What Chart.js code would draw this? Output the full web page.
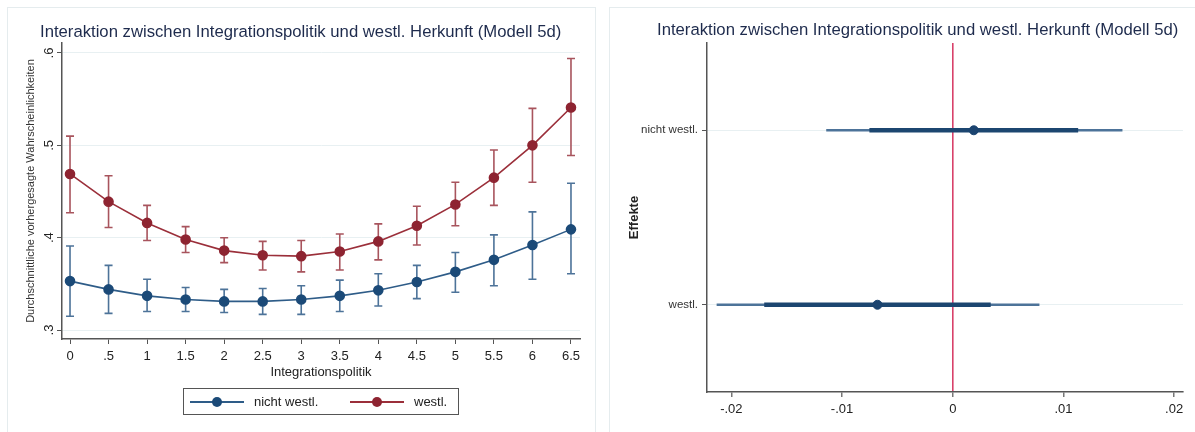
<!DOCTYPE html>
<html>
<head>
<meta charset="utf-8">
<script src="https://cdn.jsdelivr.net/npm/chart.js@4"></script>
<style>
  body { margin: 0; background: #fff; font-family: "Liberation Sans", Arial, sans-serif; }
  #wrap { position: relative; width: 1195px; height: 432px; overflow: hidden; }
  .panel { position: absolute; top: 7px; height: 440px; border: 1px solid #e5ecee; box-sizing: border-box; }
  .title { position: absolute; font-size: 16.7px; color: #1e2b4d; white-space: nowrap; }
  canvas { position: absolute; top: 0; }
  #legend { position: absolute; left: 183px; top: 388px; width: 276px; height: 27px; border: 1px solid #555; box-sizing: border-box; font-size: 13px; color: #222; }
  .key { position: absolute; top: 12px; height: 2px; width: 54px; }
  .key i { position: absolute; left: 22px; top: -4px; width: 10px; height: 10px; border-radius: 50%; }
  .lbl { position: absolute; top: 5px; }
</style>
</head>
<body>
<div id="wrap">
  <div class="panel" style="left:7px; width:589px;"></div>
  <div class="panel" style="left:609px; width:600px;"></div>
  <canvas id="left" width="600" height="432" style="left:0"></canvas>
  <canvas id="right" width="595" height="432" style="left:600px"></canvas>
  <div class="title" style="left:40px; top:22px;">Interaktion zwischen Integrationspolitik und westl. Herkunft (Modell 5d)</div>
  <div class="title" style="left:657px; top:20px;">Interaktion zwischen Integrationspolitik und westl. Herkunft (Modell 5d)</div>
  <div id="legend">
    <div class="key" style="left:6px; background:#2e5c88;"><i style="background:#1b4a78"></i></div>
    <span class="lbl" style="left:70px;">nicht westl.</span>
    <div class="key" style="left:166px; background:#9b2f3a;"><i style="background:#8e2431"></i></div>
    <span class="lbl" style="left:230px;">westl.</span>
  </div>
</div>
<script>
// left panel: predicted probabilities by integration policy
const policy = [0, 0.5, 1, 1.5, 2, 2.5, 3, 3.5, 4, 4.5, 5, 5.5, 6, 6.5];
const policyLabels = ['0', '.5', '1', '1.5', '2', '2.5', '3', '3.5', '4', '4.5', '5', '5.5', '6', '6.5'];
const nichtWestl = [0.353, 0.344, 0.337, 0.333, 0.331, 0.331, 0.333, 0.337, 0.343, 0.352, 0.363, 0.376, 0.392, 0.409];
const nichtWestlLo = [0.315, 0.318, 0.320, 0.320, 0.319, 0.317, 0.317, 0.320, 0.326, 0.334, 0.341, 0.348, 0.355, 0.361];
const nichtWestlHi = [0.391, 0.370, 0.355, 0.346, 0.344, 0.345, 0.348, 0.354, 0.361, 0.370, 0.384, 0.403, 0.428, 0.459];
const westl = [0.469, 0.439, 0.416, 0.398, 0.386, 0.381, 0.380, 0.385, 0.396, 0.413, 0.436, 0.465, 0.500, 0.541];
const westlLo = [0.427, 0.411, 0.397, 0.384, 0.373, 0.365, 0.363, 0.365, 0.376, 0.392, 0.413, 0.435, 0.460, 0.489];
const westlHi = [0.510, 0.467, 0.435, 0.412, 0.400, 0.396, 0.397, 0.404, 0.415, 0.434, 0.460, 0.495, 0.540, 0.594];
const probTicks = [0.3, 0.4, 0.5, 0.6];
const probLabels = ['.3', '.4', '.5', '.6'];

// right panel: marginal effects
const groups = ['nicht westl.', 'westl.'];
const effect = [0.0019, -0.0068];
const ciLo = [-0.0114, -0.0213];
const ciHi = [0.0153, 0.0078];
const innerLo = [-0.0075, -0.0170];
const innerHi = [0.0113, 0.0034];
const effectTicks = [-0.02, -0.01, 0, 0.01, 0.02];
const effectLabels = ['-.02', '-.01', '0', '.01', '.02'];

const axisColor = '#555';
const faint = '#e8f0f2';

const errorBars = {
    id: 'errorBars',
    beforeDatasetsDraw(chart) {
        const { ctx, scales: { x, y } } = chart;
        const bands = [
            { lo: nichtWestlLo, hi: nichtWestlHi, color: '#4d7399' },
            { lo: westlLo, hi: westlHi, color: '#a8545d' }
        ];
        ctx.save();
        ctx.lineWidth = 1.6;
        bands.forEach(b => {
            ctx.strokeStyle = b.color;
            policy.forEach((p, i) => {
                const px = x.getPixelForValue(p);
                const top = y.getPixelForValue(b.hi[i]);
                const bot = y.getPixelForValue(b.lo[i]);
                ctx.beginPath();
                ctx.moveTo(px, top); ctx.lineTo(px, bot);
                ctx.moveTo(px - 4, top); ctx.lineTo(px + 4, top);
                ctx.moveTo(px - 4, bot); ctx.lineTo(px + 4, bot);
                ctx.stroke();
            });
        });
        ctx.restore();
    }
};

// stata style: y tick labels turned sideways
const sideTicks = {
    id: 'sideTicks',
    afterDraw(chart) {
        const { ctx, scales: { y } } = chart;
        ctx.save();
        ctx.font = '13px "Liberation Sans", Arial';
        ctx.fillStyle = '#222';
        ctx.textAlign = 'center';
        ctx.textBaseline = 'middle';
        probTicks.forEach((v, i) => {
            ctx.save();
            ctx.translate(49, y.getPixelForValue(v));
            ctx.rotate(-Math.PI / 2);
            ctx.fillText(probLabels[i], 0, 0);
            ctx.restore();
        });
        ctx.restore();
    }
};

new Chart(document.getElementById('left'), {
    type: 'line',
    data: {
        datasets: [{
            label: 'nicht westl.',
            data: policy.map((p, i) => ({ x: p, y: nichtWestl[i] })),
            borderColor: '#2e5c88',
            borderWidth: 1.6,
            pointRadius: 4.5,
            pointBackgroundColor: '#1b4a78',
            pointBorderColor: '#1b4a78',
        }, {
            label: 'westl.',
            data: policy.map((p, i) => ({ x: p, y: westl[i] })),
            borderColor: '#9b2f3a',
            borderWidth: 1.6,
            pointRadius: 4.5,
            pointBackgroundColor: '#8e2431',
            pointBorderColor: '#8e2431',
        }]
    },
    options: {
        responsive: false,
        animation: false,
        layout: { padding: { top: 43, right: 20, bottom: 53, left: 0 } },
        plugins: { legend: { display: false }, tooltip: { enabled: false } },
        scales: {
            x: {
                type: 'linear',
                min: -0.104,
                max: 6.617,
                afterBuildTicks: s => { s.ticks = policy.map(v => ({ value: v })); },
                afterFit: s => { s.height = 40; },
                border: { color: axisColor, width: 1.5 },
                grid: { drawOnChartArea: false, tickLength: 5, tickColor: axisColor },
                ticks: {
                    padding: 5,
                    color: '#222',
                    font: { family: '"Liberation Sans", Arial', size: 13 },
                    callback: (v) => policyLabels[policy.indexOf(v)],
                    maxRotation: 0,
                    autoSkip: false
                },
                title: {
                    display: true,
                    text: 'Integrationspolitik',
                    color: '#222',
                    font: { family: '"Liberation Sans", Arial', size: 13, lineHeight: 1 },
                    padding: 0
                }
            },
            y: {
                min: 0.2903,
                max: 0.6108,
                afterBuildTicks: s => { s.ticks = probTicks.map(v => ({ value: v })); },
                afterFit: s => { s.width = 62; },
                border: { color: axisColor, width: 1.5 },
                grid: { color: faint, tickLength: 5, tickColor: axisColor },
                ticks: { display: false },
                title: {
                    display: true,
                    text: 'Durchschnittliche vorhergesagte Wahrscheinlichkeiten',
                    color: '#333',
                    font: { family: '"Liberation Sans", Arial', size: 11 },
                    padding: { top: 24, bottom: 0 }
                }
            }
        }
    },
    plugins: [errorBars, sideTicks]
});

new Chart(document.getElementById('right'), {
    type: 'bar',
    data: {
        labels: groups,
        datasets: [{
            label: 'CI',
            data: groups.map((g, i) => [ciLo[i], ciHi[i]]),
            backgroundColor: '#4d7399',
            barThickness: 2,
            order: 3
        }, {
            label: 'CI inner',
            data: groups.map((g, i) => [innerLo[i], innerHi[i]]),
            backgroundColor: '#1c4670',
            barThickness: 4,
            order: 2
        }, {
            type: 'line',
            label: 'Effekt',
            data: groups.map((g, i) => ({ x: effect[i], y: g })),
            showLine: false,
            pointRadius: 4.5,
            pointBackgroundColor: '#1b4470',
            pointBorderColor: '#1b4470',
            order: 1
        }]
    },
    options: {
        indexAxis: 'y',
        responsive: false,
        animation: false,
        layout: { padding: { top: 43, right: 12, bottom: 0, left: 0 } },
        datasets: { bar: { grouped: false } },
        plugins: { legend: { display: false }, tooltip: { enabled: false } },
        scales: {
            x: {
                type: 'linear',
                min: -0.0222,
                max: 0.0208,
                afterBuildTicks: s => { s.ticks = effectTicks.map(v => ({ value: v })); },
                afterFit: s => { s.height = 40; },
                border: { color: axisColor, width: 1.5 },
                grid: {
                    color: c => (c.tick && Math.abs(c.tick.value) < 1e-9) ? '#d8416a' : 'transparent',
                    lineWidth: 1.6,
                    tickLength: 5,
                    tickColor: axisColor,
                    tickWidth: 1.2
                },
                ticks: {
                    padding: 5,
                    color: '#222',
                    font: { family: '"Liberation Sans", Arial', size: 13 },
                    callback: (v) => effectLabels[effectTicks.findIndex(t => Math.abs(t - v) < 1e-9)],
                    maxRotation: 0,
                    autoSkip: false
                }
            },
            y: {
                afterFit: s => { s.width = 107; },
                border: { color: axisColor, width: 1.5 },
                grid: { offset: false, color: faint, tickLength: 5, tickColor: axisColor },
                ticks: {
                    padding: 4,
                    color: '#333',
                    font: { family: '"Liberation Sans", Arial', size: 11.5 }
                },
                title: {
                    display: true,
                    text: 'Effekte',
                    color: '#222',
                    font: { family: '"Liberation Sans", Arial', size: 13, weight: 'bold' },
                    padding: { top: 27, bottom: 0 }
                }
            }
        }
    }
});
</script>
</body>
</html>
